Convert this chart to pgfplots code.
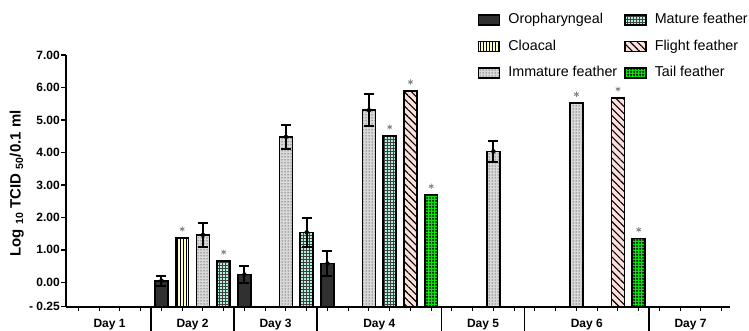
\documentclass[border=0pt]{standalone}
\usepackage{fontspec}
\setmainfont{Liberation Sans}
\usepackage{pgfplots}
\pgfplotsset{compat=1.18}
\usetikzlibrary{patterns,patterns.meta}
\pgfdeclarepatternformonly{rings}{\pgfqpoint{0pt}{0pt}}{\pgfqpoint{3pt}{3pt}}{\pgfqpoint{3pt}{3pt}}{%
  \pgfsetlinewidth{0.7pt}%
  \pgfpathcircle{\pgfqpoint{1.5pt}{1.5pt}}{1.0pt}%
  \pgfusepath{stroke}}
\definecolor{oro}{HTML}{303030}
\definecolor{clo}{HTML}{FFFFC4}
\definecolor{imm}{HTML}{D9D9D9}
\definecolor{mat}{HTML}{B2F2DC}
\definecolor{fli}{HTML}{FDE0DD}
\definecolor{tai}{HTML}{00F000}
\pgfplotsset{
  mybar/.style={ybar, bar width=0.62, bar shift=0pt, draw=black, line width=1.6pt,
    legend image code/.code={\draw[##1, line width=1.5pt] (0pt,-5pt) rectangle (21pt,5pt);}},
}
\begin{document}
\begin{tikzpicture}
\begin{axis}[
  at={(0pt,0pt)}, anchor=south west,
  scale only axis, width=664pt, height=251.7pt,
  clip=false,
  xmin=-0.1, xmax=31.9, ymin=0, ymax=7.75,
  y filter/.expression={y+0.75},
  axis lines*=left,
  axis line style={line width=1.7pt},
  tick align=outside,
  major tick length=5pt,
  minor tick length=4pt,
  xtick={2,6,10,15,20,25,30},
  xticklabels={Day 1,Day 2,Day 3,Day 4,Day 5,Day 6,Day 7},
  major x tick style={draw=none},
  minor xtick={0.5,1.5,...,31.5},
  minor x tick style={line width=1pt, black},
  ytick={0,0.75,1.75,2.75,3.75,4.75,5.75,6.75,7.75},
  yticklabels={- 0.25,0.00,1.00,2.00,3.00,4.00,5.00,6.00,7.00},
  major y tick style={line width=1.6pt, black},
  yticklabel style={font=\bfseries\fontsize{12}{14}\selectfont, inner xsep=1pt},
  xticklabel style={font=\bfseries\fontsize{12}{14}\selectfont, anchor=center, yshift=-12.5pt},
  ylabel={Log \textsubscript{10} TCID \textsubscript{50}/0.1 ml},
  ylabel style={font=\bfseries\fontsize{15}{17}\selectfont, at={(axis description cs:-0.074,0.49)}, anchor=center},
  legend columns=2,
  legend style={
    at={(axis description cs:0.62,1.17)}, anchor=north west,
    draw=none, fill=none, inner sep=0pt,
    font=\fontsize{14.3}{16}\selectfont,
    row sep=11pt,
    nodes={inner sep=1pt, text height=10.5pt, text depth=3pt},
    /tikz/every odd column/.append style={column sep=7pt},
    /tikz/every even column/.append style={column sep=6pt},
  },
  legend cell align=left,
]
% Oropharyngeal
\addplot[mybar, fill=oro] coordinates {(4.5,0.05) (8.5,0.24) (12.5,0.58)};
\addlegendentry{Oropharyngeal}
% Mature feather
\addplot[mybar, fill=mat, postaction={pattern=grid, pattern color=black!75}] coordinates {(7.5,0.66) (11.5,1.54) (15.5,4.51)};
\addlegendentry{Mature feather}
% Cloacal
\addplot[mybar, fill=clo, postaction={pattern=vertical lines}] coordinates {(5.5,1.37)};
\addlegendentry{Cloacal}
% Flight feather
\addplot[mybar, fill=fli, postaction={pattern={Lines[angle=-45, distance=5pt, line width=1.1pt]}}] coordinates {(16.5,5.90) (26.5,5.68)};
\addlegendentry{Flight feather}
% Immature feather
\addplot[mybar, fill=imm, postaction={pattern=dots}] coordinates {(6.5,1.46) (10.5,4.48) (14.5,5.30) (20.5,4.03) (24.5,5.52)};
\addlegendentry{Immature feather}
% Tail feather
\addplot[mybar, fill=tai, postaction={pattern=rings}] coordinates {(17.5,2.69) (27.5,1.35)};
\addlegendentry{Tail feather}
% error bars
\addplot[forget plot, only marks, mark=none,
  error bars/.cd, y dir=both, y explicit,
  error bar style={black, line width=2pt},
  error mark options={black, rotate=90, mark size=5pt, line width=2pt}]
  coordinates {(4.5,0.05) +- (0,0.16) (8.5,0.24) +- (0,0.25) (12.5,0.58) +- (0,0.40)
               (6.5,1.46) +- (0,0.38) (10.5,4.48) +- (0,0.36) (14.5,5.30) +- (0,0.49) (20.5,4.03) +- (0,0.32)
               (11.5,1.54) +- (0,0.45)};
% asterisks
\addplot[forget plot, only marks, mark=asterisk, mark size=2.6pt, color=gray, mark options={line width=0.8pt}]
  coordinates {(5.5,1.64) (7.5,0.93) (15.5,4.78) (16.5,6.17) (17.5,2.96) (24.5,5.79) (26.5,5.95) (27.5,1.62)};
\pgfplotsinvokeforeach{4,8,12,18,22,28}{\draw[line width=1.6pt] (axis cs:#1,0) -- ++(0pt,-24.3pt);}
\end{axis}
\pgfresetboundingbox
\path[use as bounding box] (-66pt,-24.3pt) rectangle (683pt,306.7pt);
\end{tikzpicture}
\end{document}
